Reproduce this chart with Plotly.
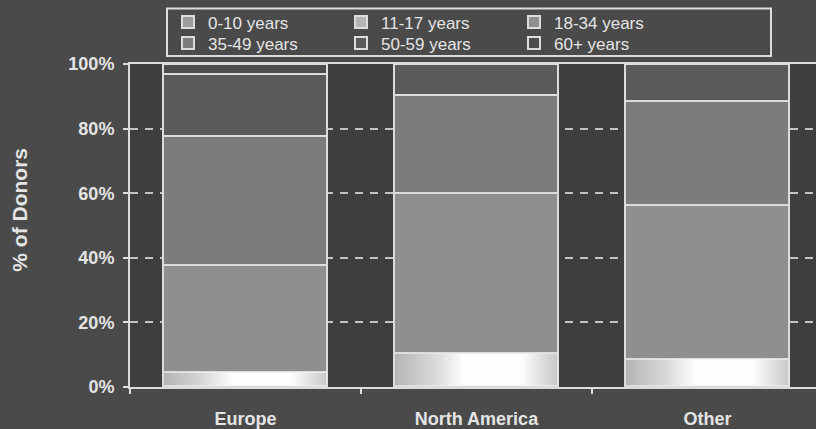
import plotly.graph_objects as go

# Share of donors by age group within each region (%)
regions = ["Europe", "North America", "Other"]
age_groups = ["0-10 years", "11-17 years", "18-34 years",
              "35-49 years", "50-59 years", "60+ years"]
age_0_10 = [0.4, 0.4, 0.4]
age_11_17 = [4.2, 10.0, 8.2]
age_18_34 = [33.1, 49.7, 47.8]
age_35_49 = [39.9, 30.2, 32.0]
age_50_59 = [19.2, 9.7, 11.6]
age_60_plus = [3.2, 0.0, 0.0]
y_ticks = [0, 20, 40, 60, 80, 100]

series = [age_0_10, age_11_17, age_18_34, age_35_49, age_50_59, age_60_plus]
colors = ["#9c9c9c", "#b4b4b4", "#8f8f8f", "#7c7c7c", "#5a5a5a", "#4c4c4c"]
legend_rows = ["legend", "legend", "legend", "legend2", "legend2", "legend2"]

FONT = "Liberation Sans, Arial, sans-serif"
TEXT = "#e4e4e4"
EDGE = "#dcdcdc"
BAR_W = 0.71
xpos = list(range(len(regions)))

fig = go.Figure()
for name, vals, col, lg in zip(age_groups, series, colors, legend_rows):
    fig.add_trace(go.Bar(
        x=xpos, y=vals, name=name, width=BAR_W, legend=lg,
        marker=dict(color=col, line=dict(color=EDGE, width=2)),
        hoverinfo="skip",
    ))

# Horizontal glow across the 11-17 segment of each bar
for xi, b, v in zip(xpos, age_0_10, age_11_17):
    x0, x1 = xi - BAR_W / 2, xi + BAR_W / 2
    fig.add_trace(go.Scatter(
        x=[x0, x1, x1, x0, x0], y=[b, b, b + v, b + v, b],
        mode="lines", fill="toself", line=dict(width=0),
        fillgradient=dict(type="horizontal", colorscale=[
            [0.0, "rgba(255,255,255,0)"],
            [0.25, "rgba(255,255,255,0.5)"],
            [0.42, "rgba(255,255,255,0.97)"],
            [0.78, "rgba(255,255,255,0.97)"],
            [1.0, "rgba(255,255,255,0.25)"],
        ]),
        showlegend=False, hoverinfo="skip",
    ))

PLOT_L, PLOT_T, W, H = 130, 64, 816, 429
PLOT_B = 39
plot_w = W - PLOT_L
plot_h = H - PLOT_T - PLOT_B


def px_x(p):
    return (p - PLOT_L) / plot_w


def px_y(p):
    return 1 + (PLOT_T - p) / plot_h


legend_style = dict(
    orientation="h", xanchor="left", yanchor="top",
    entrywidth=128, entrywidthmode="pixels",
    bgcolor="rgba(0,0,0,0)", borderwidth=0,
    font=dict(family=FONT, size=17, color=TEXT),
    traceorder="normal",
)

fig.update_layout(
    width=W, height=H,
    margin=dict(l=PLOT_L, r=0, t=PLOT_T, b=PLOT_B),
    barmode="stack",
    paper_bgcolor="#4a4a4a",
    plot_bgcolor="#3e3e3e",
    font=dict(family=FONT, color=TEXT),
    legend=dict(x=px_x(168), y=px_y(4), **legend_style),
    legend2=dict(x=px_x(168), y=px_y(25), **legend_style),
    shapes=[dict(
        type="rect", xref="paper", yref="paper",
        x0=px_x(167), x1=px_x(771), y0=px_y(56), y1=px_y(8),
        line=dict(color=EDGE, width=2), fillcolor="rgba(0,0,0,0)",
    )],
    annotations=[dict(
        text="% of Donors", xref="paper", yref="paper",
        x=px_x(20), y=px_y(211), xanchor="center", yanchor="middle",
        showarrow=False, textangle=-90,
        font=dict(family=FONT, size=21, color=TEXT, weight="bold"),
    )],
)

fig.update_xaxes(
    range=[-0.5, 2.47],
    tickmode="array", tickvals=xpos, ticktext=regions,
    ticks="", ticklabelstandoff=14,
    tickfont=dict(family=FONT, size=18, color=TEXT, weight="bold"),
    showgrid=False, zeroline=False,
    showline=True, linecolor=EDGE, linewidth=2, mirror=True,
    minor=dict(tickmode="array", tickvals=[-0.5, 0.5, 1.5],
               ticks="outside", ticklen=5, tickcolor=EDGE, tickwidth=1.5),
)
fig.update_yaxes(
    range=[0, 100],
    tickmode="array", tickvals=y_ticks,
    ticktext=[f"{v}%" for v in y_ticks],
    ticks="outside", ticklen=5, tickcolor=EDGE, tickwidth=1.5,
    ticklabelstandoff=5,
    tickfont=dict(family=FONT, size=18, color=TEXT, weight="bold"),
    showgrid=True, gridcolor="#c4c4c4", gridwidth=1.5, griddash="8px,7px",
    zeroline=False,
    showline=True, linecolor=EDGE, linewidth=2, mirror=False,
)

fig.write_html("out.html")
